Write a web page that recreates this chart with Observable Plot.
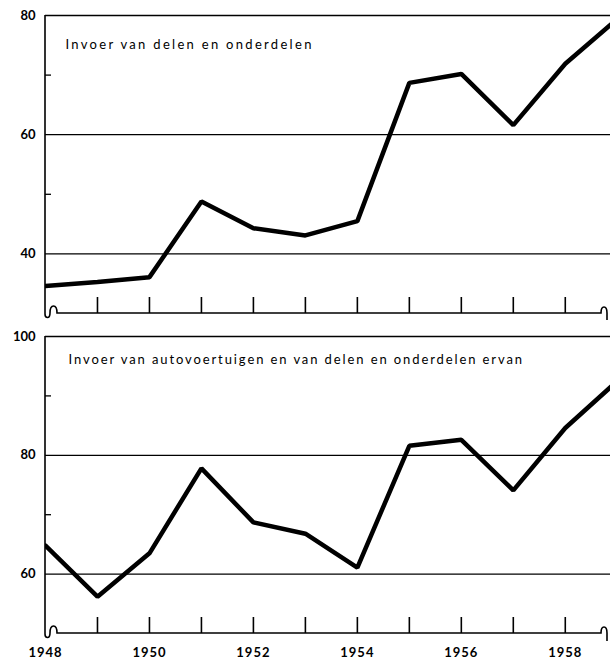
<!DOCTYPE html>
<html><head><meta charset="utf-8">
<script src="https://cdn.jsdelivr.net/npm/d3@7"></script>
<script src="https://cdn.jsdelivr.net/npm/@observablehq/plot@0.6"></script>
<style>
body{margin:0;background:#fff;}
#chart{width:610px;}
svg{display:block;}
</style></head><body><div id="chart"></div>
<script>
const years = [1948,1949,1950,1951,1952,1953,1954,1955,1956,1957,1958,1959];
const delenValues = [34.6,35.3,36.1,48.8,44.3,43.1,45.5,68.7,70.2,61.6,71.9,79.4];
const totaalValues = [64.8,56.2,63.5,77.8,68.7,66.8,61.1,81.6,82.6,74.1,84.6,92.5];
const tickYears = [1949,1950,1951,1952,1953,1954,1955,1956,1957,1958];
const labelYears = [1948,1950,1952,1954,1956,1958];
const topTitle = "Invoer van delen en onderdelen";
const bottomTitle = "Invoer van autovoertuigen en van delen en onderdelen ervan";
const topYLabels = [40,60,80];
const topGrid = [40,60];
const topMinor = [50,70];
const bottomYLabels = [60,80,100];
const bottomGrid = [60,80];
const bottomMinor = [70,90];

const W = 610;
const FONT = "Lato, 'DejaVu Sans', sans-serif";

function breakFrame(index, scales, values, dims) {
  const x0 = dims.marginLeft, y0 = dims.marginTop;
  const yb = dims.height - dims.marginBottom, xr = dims.width;
  const d = `M${x0},${y0} V${yb+1} q0,3.5 2.5,3.5 q2.5,0 2.5,-4.5 q0,-7 3.5,-7 q3.5,0 3.5,7 H${xr-9} q0,-6 3,-6 q3,0 3,6 V${yb+8}`;
  const p = document.createElementNS("http://www.w3.org/2000/svg","path");
  p.setAttribute("d", d);
  p.setAttribute("fill", "none");
  p.setAttribute("stroke", "#000");
  p.setAttribute("stroke-width", "1.6");
  return p;
}

function panel({values, yDomain, grid, minor, yLabels, title, height, mTop, mBottom, showYears, titleDx, titleDy, spacing}) {
  const data = years.map((y, i) => ({year: y, value: values[i]}));
  const plotH = height - mTop - mBottom;
  const marks = [
    Plot.ruleY(grid, {stroke: "#000", strokeWidth: 1.3}),
    Plot.ruleY([yDomain[1]], {stroke: "#000", strokeWidth: 1.6}),
    Plot.ruleY(minor, {stroke: "#000", strokeWidth: 1.3, insetRight: W - 45 - 6}),
    Plot.ruleX(tickYears, {stroke: "#000", strokeWidth: 1.6, insetTop: plotH - 16}),
    Plot.line(data, {x: "year", y: "value", stroke: "#000", strokeWidth: 4.5, strokeLinejoin: "miter", clip: true}),
    breakFrame,
    Plot.axisY(yLabels, {tickSize: 0, tickPadding: 10, fontSize: 13, fontWeight: "bold", label: null}),
    Plot.text([title], {frameAnchor: "top-left", dx: titleDx, dy: titleDy, textAnchor: "start", lineAnchor: "bottom", fontSize: 13})
  ];
  if (showYears) {
    marks.push(Plot.axisX(labelYears, {tickSize: 0, tickPadding: 14, fontSize: 13, fontWeight: "bold", label: null, tickFormat: d => String(d)}));
  }
  const svg = Plot.plot({
    width: W, height,
    marginLeft: 45, marginRight: 0, marginTop: mTop, marginBottom: mBottom,
    style: {fontFamily: FONT, color: "#000", background: "#fff"},
    x: {domain: [1948, 1958.87], axis: showYears ? undefined : null},
    y: {domain: yDomain},
    marks
  });
  d3.select(svg).selectAll("g[aria-label='text'] text").attr("letter-spacing", spacing);
  d3.select(svg).selectAll("g[aria-label='x-axis tick label'] text").attr("letter-spacing", "1px");
  return svg;
}

const root = document.getElementById("chart");
root.appendChild(panel({values: delenValues, yDomain: [30, 80], grid: topGrid, minor: topMinor, yLabels: topYLabels, title: topTitle, height: 320, mTop: 15, mBottom: 7, showYears: false, titleDx: 20, titleDy: 33, spacing: "2.3px"}));
root.appendChild(panel({values: totaalValues, yDomain: [50, 100], grid: bottomGrid, minor: bottomMinor, yLabels: bottomYLabels, title: bottomTitle, height: 339, mTop: 16, mBottom: 26, showYears: true, titleDx: 23, titleDy: 27, spacing: "1.9px"}));
</script></body></html>
